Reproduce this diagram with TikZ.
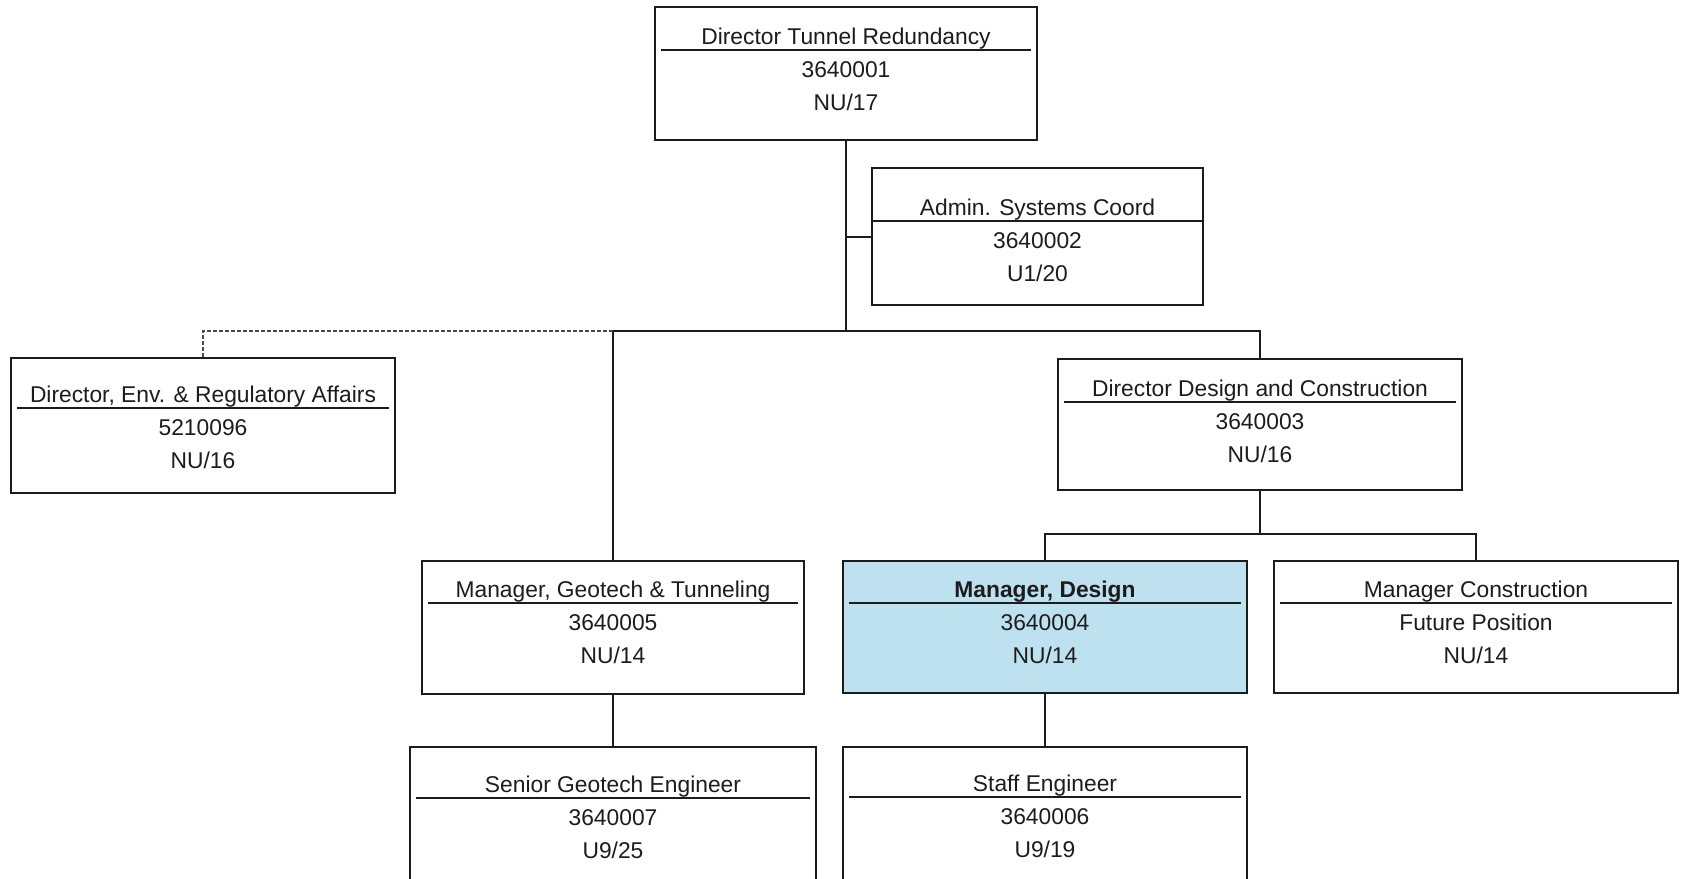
\documentclass[tikz,border=0pt]{standalone}
\usepackage{fontspec}
\setmainfont{Liberation Sans}
\definecolor{ink}{HTML}{1C1C1C}
\definecolor{designblue}{HTML}{BEE1EF}
\tikzset{
  orgbox/.style={draw=ink, line width=2.4pt, rectangle, inner sep=0pt, outer sep=0pt},
  cur/.style={},
  txt/.style={inner sep=0pt, outer sep=0pt, anchor=base, text=ink, font=\fontsize{22.8}{27}\selectfont},
  uline/.style={draw=ink, line width=2pt},
  conn/.style={draw=ink, line width=2.4pt},
  dconn/.style={draw=ink!80, line width=1.5pt, dash pattern=on 4pt off 2pt}
}
% name, x1, y1, x2, y2, underline y, title, line2, line3
\def\orgbox#1#2#3#4#5#6#7#8#9{%
  \pgfmathsetmacro\bw{#4-#2}%
  \pgfmathsetmacro\bh{#5-#3}%
  \node[orgbox, cur, minimum width=\bw pt, minimum height=\bh pt] (#1) at ({(#2+#4)/2},{(#3+#5)/2}) {};
  \draw[uline] ({#2+\uin},#6) -- ({#4-\uin},#6);
  \node[txt] (#1-t) at ({(#2+#4)/2},{#6-6}) {#7};
  \node[txt] (#1-a) at ({(#2+#4)/2},{#6+27}) {#8};
  \node[txt] (#1-b) at ({(#2+#4)/2},{#6+60}) {#9};
}
\def\uin{6}
\begin{document}
\begin{tikzpicture}[x=1pt, y=-1pt]
\clip (0,0) rectangle (1685,878);
\fill[white] (0,0) rectangle (1685,878);

\orgbox{top}{655}{7}{1037}{140}{50}{Director Tunnel Redundancy}{3640001}{NU/17}
\def\uin{0}
\orgbox{admin}{872}{168}{1203}{305}{221}{Admin. Systems Coord}{3640002}{U1/20}
\def\uin{6}
\orgbox{env}{11}{358}{395}{493}{408}{Director, Env. \& Regulatory Affairs}{5210096}{NU/16}
\orgbox{dc}{1058}{359}{1462}{490}{402}{Director Design and Construction}{3640003}{NU/16}
\orgbox{geo}{422}{561}{804}{694}{603}{Manager, Geotech \& Tunneling}{3640005}{NU/14}
\tikzset{cur/.style={fill=designblue}}
\orgbox{des}{843}{561}{1247}{693}{603}{\textbf{Manager, Design}}{3640004}{NU/14}
\tikzset{cur/.style={}}
\orgbox{con}{1274}{561}{1678}{693}{603}{Manager Construction}{Future Position}{NU/14}
\orgbox{sen}{410}{747}{816}{910}{798}{Senior Geotech Engineer}{3640007}{U9/25}
\orgbox{staff}{843}{747}{1247}{910}{797}{Staff Engineer}{3640006}{U9/19}

% junction coordinates
\coordinate (bus1) at (846,331);
\coordinate (busL) at (613,331);
\coordinate (busR) at (1260,331);
\coordinate (stub) at (846,237);
\coordinate (bus2) at (1260,534);
\coordinate (bus2L) at (1045,534);
\coordinate (bus2R) at (1476,534);

\draw[conn] (top.south) -- (bus1);
\draw[conn] (stub) -- (admin.west |- stub);
\draw[conn] (busL) -- (busR) -- (dc.north);
\draw[conn] (busL) -- (geo.north);
\draw[dconn] (busL) -- (env.north |- busL) -- (env.north);
\draw[conn] (dc.south) -- (bus2);
\draw[conn] (des.north) -- (bus2L) -- (bus2R) -- (con.north);
\draw[conn] (geo.south) -- (sen.north);
\draw[conn] (des.south) -- (staff.north);
\end{tikzpicture}
\end{document}
